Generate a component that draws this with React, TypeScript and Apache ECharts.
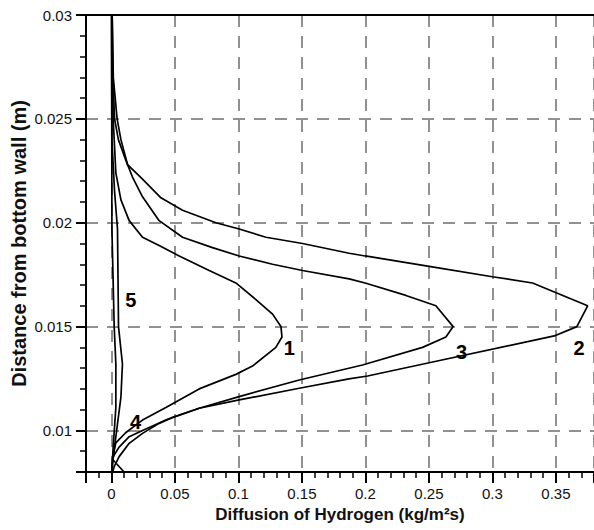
import React, { useEffect, useRef } from "react";
import * as echarts from "echarts";

// [diffusion (kg/m^2 s), distance from bottom wall (m)]
const curve1: [number, number][] = [
  [0.0004, 0.03], [0.0008, 0.027], [0.0014, 0.025], [0.0022, 0.024], [0.0035, 0.0224],
  [0.0075, 0.0211], [0.014, 0.0201], [0.0245, 0.0193], [0.0376, 0.0189], [0.0534, 0.0184],
  [0.077, 0.0177], [0.098, 0.0171], [0.1138, 0.0163], [0.1269, 0.0156], [0.1335, 0.015],
  [0.1343, 0.0145], [0.1295, 0.014], [0.1111, 0.0131], [0.098, 0.0127], [0.0691, 0.012],
  [0.0429, 0.0111], [0.0245, 0.0105], [0.0114, 0.0099], [0.0035, 0.0094], [0.001, 0.0087],
  [0.0003, 0.008],
];
const curve2: [number, number][] = [
  [0.0006, 0.03], [0.0015, 0.027], [0.0045, 0.025], [0.0075, 0.024], [0.0127, 0.0228],
  [0.0245, 0.0221], [0.039, 0.0212], [0.056, 0.0206], [0.0823, 0.02], [0.1006, 0.0197],
  [0.1217, 0.0193], [0.1505, 0.019], [0.1872, 0.01853], [0.1998, 0.0184], [0.2502, 0.0179],
  [0.3, 0.0174], [0.3316, 0.0171], [0.375, 0.016], [0.3665, 0.015], [0.3487, 0.01455],
  [0.2502, 0.01326], [0.2017, 0.01262], [0.187, 0.01248], [0.1479, 0.01203], [0.1006, 0.01147],
  [0.0691, 0.01107], [0.0481, 0.01063], [0.0376, 0.01034], [0.0245, 0.00986], [0.014, 0.00938],
  [0.0061, 0.00874], [0.0022, 0.00826], [0.001, 0.008],
];
const curve3: [number, number][] = [
  [0.0006, 0.03], [0.0012, 0.027], [0.0025, 0.025], [0.0055, 0.024], [0.0114, 0.023],
  [0.0166, 0.0222], [0.0245, 0.02125], [0.0376, 0.0201], [0.056, 0.0193], [0.0796, 0.0188],
  [0.1006, 0.0184], [0.1269, 0.018], [0.1505, 0.0177], [0.1872, 0.0173], [0.1998, 0.0171],
  [0.2319, 0.0165], [0.2555, 0.016], [0.2691, 0.015], [0.2634, 0.0145], [0.245, 0.014],
  [0.1977, 0.01315], [0.1479, 0.01243], [0.1006, 0.01163], [0.0691, 0.01107], [0.0429, 0.0105],
  [0.0245, 0.01], [0.014, 0.0097], [0.0061, 0.0092], [0.002, 0.0088], [0.001, 0.0086],
  [0.01, 0.008],
];
const curve4: [number, number][] = [
  [0.0001, 0.03], [0.0003, 0.024], [0.0004, 0.0197], [0.0022, 0.015], [0.0035, 0.0132],
  [0.0035, 0.0111], [0.0014, 0.0092], [0.0003, 0.008],
];
const curve5: [number, number][] = [
  [0.0002, 0.03], [0.0004, 0.024], [0.0025, 0.0215], [0.0048, 0.0197], [0.0056, 0.015],
  [0.0087, 0.0132], [0.0075, 0.0116], [0.0035, 0.0097], [0.0014, 0.0087], [0.0005, 0.008],
];

const curveLabels = ["1", "2", "3", "4", "5"];
const labelPositions: [number, number][] = [
  [0.14, 0.01396], [0.3683, 0.01396], [0.2757, 0.0138], [0.0191, 0.01042], [0.0153, 0.01628],
];

const X_MIN = -0.02;
const X_MAX = 0.38;
const Y_MIN = 0.008;
const Y_MAX = 0.03;

const FONT = "'Liberation Sans', Arial, Helvetica, sans-serif";

export default function App() {
  const ref = useRef<HTMLDivElement>(null);
  useEffect(() => {
    if (!ref.current) return;
    const chart = echarts.init(ref.current, undefined, { renderer: "svg" });
    const fmt = (v: number) => String(parseFloat(v.toFixed(4)));
    const lineSeries = [curve1, curve2, curve3, curve4, curve5].map((d, i) => ({
      type: "line",
      name: curveLabels[i],
      xAxisIndex: 0,
      yAxisIndex: 0,
      data: d,
      showSymbol: false,
      symbol: "none",
      smooth: false,
      lineStyle: { color: "#000", width: 1.7 },
      z: 3,
    }));
    chart.setOption({
      animation: false,
      backgroundColor: "#fff",
      grid: { left: 86, top: 15, right: 0, bottom: 58 },
      xAxis: [
        {
          type: "value", position: "bottom", min: X_MIN, max: X_MAX, splitNumber: 8,
          name: "Diffusion of Hydrogen (kg/m²s)",
          nameLocation: "middle", nameGap: 34, nameMoveOverlap: false,
          nameTextStyle: { fontFamily: FONT, fontWeight: "bold", fontSize: 17, color: "#111" },
          axisLine: { show: true, onZero: false, lineStyle: { color: "#000", width: 2 } },
          axisTick: { show: true, length: 11, lineStyle: { color: "#000", width: 2 } },
          minorTick: { show: true, splitNumber: 5, length: 6, lineStyle: { color: "#000", width: 1.5 } },
          axisLabel: {
            margin: 14, fontFamily: FONT, fontSize: 15, color: "#111",
            showMinLabel: false, showMaxLabel: false,
            formatter: (v: number) => (v < -1e-9 || v > 0.3751 ? "" : fmt(v)),
          },
          splitLine: { show: true, lineStyle: { color: "#6e6e6e", width: 1.5, type: [12, 9] } },
        },
        {
          type: "value", position: "top", min: X_MIN, max: X_MAX,
          axisLine: { show: true, onZero: false, lineStyle: { color: "#000", width: 2 } },
          axisTick: { show: false }, axisLabel: { show: false }, splitLine: { show: false },
        },
      ],
      yAxis: [
        {
          type: "value", position: "left", min: Y_MIN, max: Y_MAX, splitNumber: 4,
          name: "Distance from bottom wall (m)",
          nameLocation: "middle", nameGap: 57, nameRotate: 90, nameMoveOverlap: false,
          nameTextStyle: { fontFamily: FONT, fontWeight: "bold", fontSize: 20, color: "#111" },
          axisLine: { show: true, onZero: false, lineStyle: { color: "#000", width: 2 } },
          axisTick: { show: true, length: 10, lineStyle: { color: "#000", width: 2 } },
          minorTick: { show: true, splitNumber: 5, length: 6, lineStyle: { color: "#000", width: 1.5 } },
          axisLabel: {
            margin: 14, fontFamily: FONT, fontSize: 15, color: "#111",
            showMinLabel: false,
            formatter: (v: number) => (v < 0.0099 ? "" : fmt(v)),
          },
          splitLine: { show: true, lineStyle: { color: "#6e6e6e", width: 1.5, type: [12, 9] } },
        },
      ],
      series: [
        ...lineSeries,
        {
          type: "scatter",
          xAxisIndex: 0,
          yAxisIndex: 0,
          symbolSize: 0,
          itemStyle: { color: "#000", opacity: 1 },
          data: labelPositions.map((p, i) => ({ value: p, name: curveLabels[i] })),
          label: {
            show: true, position: "inside", formatter: (p: any) => p.name, opacity: 1,
            fontFamily: FONT, fontWeight: "bold", fontSize: 20, color: "#000",
            textBorderWidth: 0, textBorderColor: "transparent",
          },
          z: 5,
        },
      ],
    });
    return () => chart.dispose();
  }, []);
  return (
    <div
      ref={ref}
      style={{ position: "fixed", left: 0, top: 0, width: 594, height: 530, background: "#fff" }}
    />
  );
}
